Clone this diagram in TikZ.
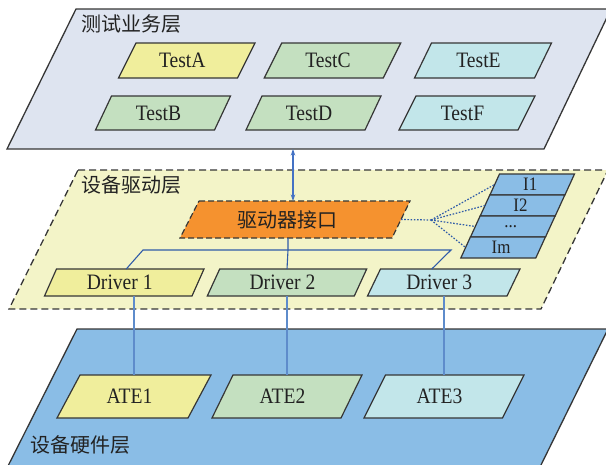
\documentclass[tikz,border=0pt]{standalone}
\usepackage{fontspec}
\setmainfont{Liberation Serif}
\newfontfamily\latfont[FakeStretch=0.89]{Liberation Serif}
\newfontfamily\cjkfont{Noto Sans CJK SC}
\usetikzlibrary{arrows.meta}

\definecolor{toplayer}{HTML}{DEE4F0}
\definecolor{midlayer}{HTML}{F3F4C8}
\definecolor{botlayer}{HTML}{8ABDE6}
\definecolor{cyel}{HTML}{F0EE9C}
\definecolor{cgrn}{HTML}{C4E0C0}
\definecolor{ccyn}{HTML}{C2E6EA}
\definecolor{corg}{HTML}{F5922F}
\definecolor{cblu}{HTML}{8ABDE6}
\definecolor{edge}{HTML}{363636}
\definecolor{txt}{HTML}{222222}
\definecolor{linkdark}{HTML}{2F5BA8}
\definecolor{linklight}{HTML}{5E8CCB}
\definecolor{arrowblue}{HTML}{4472C4}

\tikzset{
  layerline/.style={draw=edge, line width=1.3pt, line join=miter},
  boxline/.style={draw=edge, line width=1.2pt, line join=miter},
  anchorbox/.style={inner sep=0pt, outer sep=0pt, draw=none},
  lab/.style={inner sep=0pt, text=txt, font=\latfont\fontsize{22}{24}\selectfont},
  smalllab/.style={inner sep=0pt, text=txt, font=\latfont\fontsize{19}{20}\selectfont},
  cjklab/.style={inner sep=0pt, text=txt, font=\cjkfont\fontsize{20}{22}\selectfont},
  treeline/.style={draw=linkdark, line width=1.1pt},
  vline/.style={draw=linklight, line width=1.4pt},
  dotline/.style={draw=linkdark, line width=1.2pt, dash pattern=on 1.6pt off 1.6pt},
  dblarrow/.style={draw=arrowblue, line width=1.3pt, {Stealth[length=6.5pt,width=4.5pt]}-{Stealth[length=6.5pt,width=4.5pt]}},
}

% name, cx, cy, half width, half height, slant, fill, text
\newcommand\pbox[8]{%
  \filldraw[boxline,fill=#7] ({#2-#4+#6},{#3-#5}) -- ({#2+#4+#6},{#3-#5}) -- ({#2+#4-#6},{#3+#5}) -- ({#2-#4-#6},{#3+#5}) -- cycle;
  \node[anchorbox,minimum width={2*#4pt},minimum height={2*#5pt}] (#1) at (#2,#3) {};
  \node[lab] (#1-t) at ([xshift=-4.5pt]#1.center) {#8};
}
\newcommand\ibox[7]{%
  \filldraw[boxline,fill=cblu] ({#2-#4+#6},{#3-#5}) -- ({#2+#4+#6},{#3-#5}) -- ({#2+#4-#6},{#3+#5}) -- ({#2-#4-#6},{#3+#5}) -- cycle;
  \node[anchorbox,minimum width={2*#4pt},minimum height={2*#5pt}] (#1) at (#2,#3) {};
  \node[smalllab] (#1-t) at ([xshift=-2pt]#1.center) {#7};
}

\begin{document}
\begin{tikzpicture}[x=1pt,y=-1pt]
\useasboundingbox (0,0) rectangle (606,464);
\begin{scope}
\clip (0,0) rectangle (606,464);

% ---------- top layer ----------
\filldraw[layerline, fill=toplayer] (76,9) -- (611,9) -- (544,149) -- (7,149) -- cycle;
\node[cjklab, anchor=west] (ttop) at (81,24) {测试业务层};
\coordinate (topbot) at (293,149);

\pbox{ta}{186.75}{60.5}{59.5}{17.5}{8.75}{cyel}{TestA}
\pbox{tc}{332.5}{60.5}{59.5}{17.5}{8.75}{cgrn}{TestC}
\pbox{te}{483}{60.5}{60}{17.5}{8.5}{ccyn}{TestE}
\pbox{tb}{163}{113}{59.5}{17}{8}{cgrn}{TestB}
\pbox{td}{313.5}{113}{59.5}{17}{8}{cgrn}{TestD}
\pbox{tf}{467}{113}{59.5}{17}{8.5}{ccyn}{TestF}

% ---------- middle layer ----------
\filldraw[layerline, fill=midlayer, dash pattern=on 7pt off 4pt] (78,170) -- (608,170) -- (541,309) -- (9,309) -- cycle;
\node[cjklab, anchor=west] (tmid) at (81,185) {设备驱动层};

% interface box (dashed, orange)
\filldraw[boxline, fill=corg, dash pattern=on 6pt off 3pt] (199,201) -- (410,201) -- (392,238) -- (180,238) -- cycle;
\node[anchorbox, minimum width=211.5pt, minimum height=37pt] (iface) at (295.25,219.5) {};
\node[cjklab] (iface-t) at (287.5,219.5) {驱动器接口};

% interface stack
\ibox{i1}{532.2}{184.5}{37.5}{10.5}{4.8}{I1}
\ibox{i2}{522.5}{205.5}{37.5}{10.5}{4.8}{I2}
\ibox{i3}{512.8}{226.5}{37.5}{10.5}{4.8}{...}
\ibox{i4}{503.1}{247.5}{37.5}{10.5}{4.8}{Im}

% drivers
\pbox{d1}{124.25}{282.5}{73.75}{13.5}{6}{cyel}{Driver 1}
\pbox{d2}{287}{282.5}{73.5}{13.5}{6.2}{cgrn}{Driver 2}
\pbox{d3}{443.75}{282.5}{69.75}{13.5}{6.5}{ccyn}{Driver 3}

% ---------- bottom layer ----------
\filldraw[layerline, fill=botlayer] (77,329) -- (608,329) -- (540,467) -- (7.5,467) -- cycle;
\node[cjklab, anchor=west] (tbot) at (30,445) {设备硬件层};

\pbox{a1}{134}{396.5}{65.5}{21.5}{11.5}{cyel}{ATE1}
\pbox{a2}{287}{396.5}{64.5}{21.5}{10.5}{cgrn}{ATE2}
\pbox{a3}{444}{396.5}{69.25}{21.5}{10.75}{ccyn}{ATE3}

% ---------- connectors ----------
\draw[dblarrow] (iface.north -| topbot) -- (topbot);

\coordinate (busL) at (143,250);
\coordinate (busM) at (288,250);
\coordinate (busR) at (451,250);
\draw[treeline] ([xshift=2pt]d1.north) -- (busL) -- (busR) -- ([xshift=-12pt]d3.north);
\draw[treeline] (busM |- iface.south) -- (busM) -- (d2.north);

\coordinate (fan) at (431,220);
\draw[dotline] (iface.east) -- (fan);
\draw[dotline] (fan) -- (i1.west);
\draw[dotline] (fan) -- (i2.west);
\draw[dotline] (fan) -- (i3.west);
\draw[dotline] (fan) -- (i4.west);

\draw[vline] (a1.north |- d1.south) -- (a1.north);
\draw[vline] (a2.north |- d2.south) -- (a2.north);
\draw[vline] (a3.north |- d3.south) -- (a3.north);
\end{scope}
\end{tikzpicture}
\end{document}
